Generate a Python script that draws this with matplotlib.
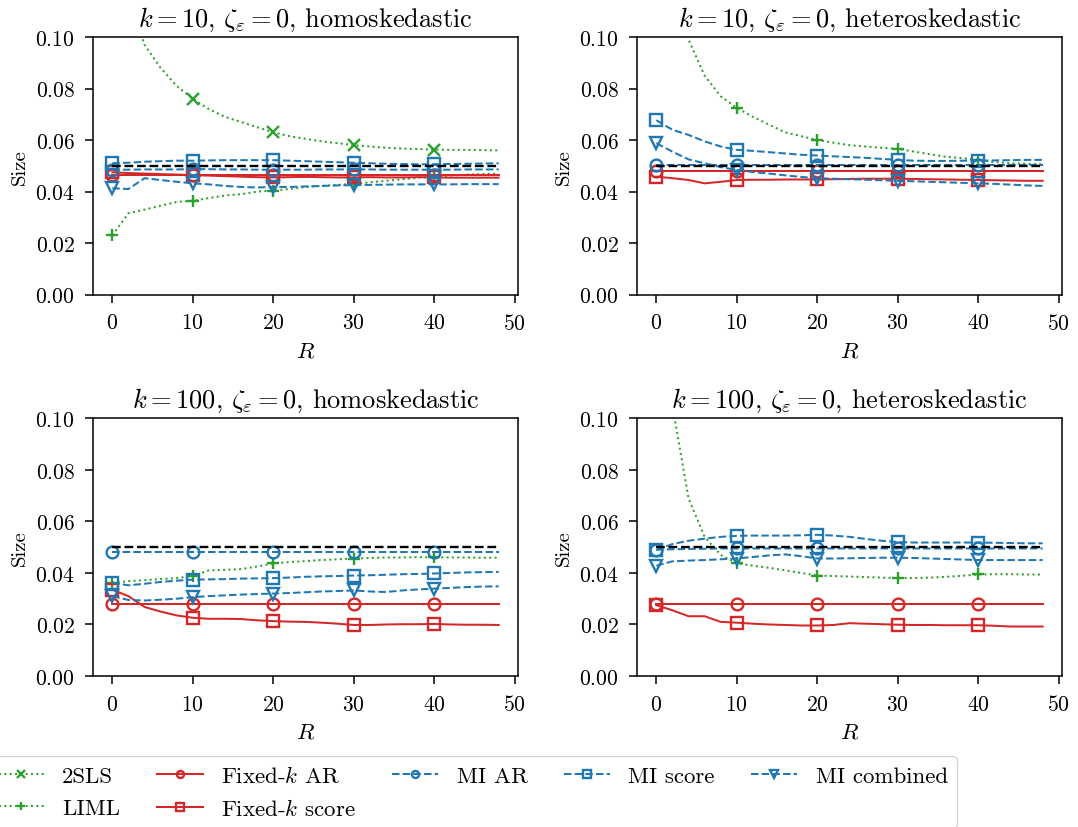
import numpy as np
import matplotlib
matplotlib.use("Agg")
import matplotlib.pyplot as plt

plt.rcParams['font.family'] = 'serif'
plt.rcParams['font.serif'] = ['cmr10']
plt.rcParams['mathtext.fontset'] = 'cm'
plt.rcParams['axes.formatter.use_mathtext'] = True

R = list(range(0, 50, 2))

titles = [r'$k=10$, $\zeta_\varepsilon=0$, homoskedastic',
          r'$k=10$, $\zeta_\varepsilon=0$, heteroskedastic',
          r'$k=100$, $\zeta_\varepsilon=0$, homoskedastic',
          r'$k=100$, $\zeta_\varepsilon=0$, heteroskedastic']

labels = ['2SLS', 'LIML', 'Fixed-$k$ AR', 'Fixed-$k$ score', 'MI AR', 'MI score', 'MI combined']

nominal = [0.05] * 25

# ---- panel 1: k=10 homoskedastic
tsls_1 = [0.140, 0.115, 0.097, 0.088, 0.081, 0.076, 0.072, 0.069, 0.067, 0.065, 0.063, 0.0615, 0.0605,
          0.0595, 0.0588, 0.058, 0.0575, 0.057, 0.0567, 0.0565, 0.0563, 0.0562, 0.0562, 0.0561, 0.056]
liml_1 = [0.023, 0.0316, 0.033, 0.0345, 0.036, 0.0364, 0.0375, 0.0385, 0.039, 0.040, 0.0404, 0.041, 0.0418,
          0.0422, 0.0426, 0.043, 0.0436, 0.0442, 0.0448, 0.0454, 0.0458, 0.0462, 0.0466, 0.0468, 0.047]
fixar_1 = [0.0465, 0.0465, 0.0465, 0.0465, 0.0465, 0.0465, 0.0465, 0.0465, 0.0465, 0.0465, 0.0465, 0.0465, 0.0465,
           0.0465, 0.0465, 0.0465, 0.0465, 0.0465, 0.0465, 0.0465, 0.0465, 0.0465, 0.0465, 0.0465, 0.0465]
fixsc_1 = [0.0475, 0.0472, 0.047, 0.0468, 0.0466, 0.0464, 0.0462, 0.046, 0.0458, 0.0456, 0.0455, 0.0456, 0.0457,
           0.0456, 0.0455, 0.0455, 0.0456, 0.0455, 0.0455, 0.0456, 0.0455, 0.0454, 0.0454, 0.0454, 0.0454]
miar_1 = [0.0485, 0.0485, 0.0486, 0.0486, 0.0486, 0.0487, 0.0487, 0.0486, 0.0486, 0.0485, 0.0485, 0.0485, 0.0485,
          0.0486, 0.0486, 0.0486, 0.0486, 0.0485, 0.0485, 0.0485, 0.0485, 0.0485, 0.0486, 0.0486, 0.0486]
misc_1 = [0.051, 0.0512, 0.0516, 0.0518, 0.052, 0.052, 0.0521, 0.0522, 0.0522, 0.0522, 0.0522, 0.052, 0.0518,
          0.0516, 0.0514, 0.0512, 0.051, 0.0508, 0.0507, 0.0506, 0.0506, 0.0507, 0.0508, 0.0509, 0.051]
mico_1 = [0.0413, 0.041, 0.0452, 0.0445, 0.0438, 0.0432, 0.0428, 0.0422, 0.0418, 0.0416, 0.0418, 0.0418, 0.042,
          0.0422, 0.0424, 0.0425, 0.0426, 0.0427, 0.0428, 0.0428, 0.0428, 0.0428, 0.0429, 0.0429, 0.0429]

# ---- panel 2: k=10 heteroskedastic
tsls_2 = [0.40, 0.33, 0.28, 0.25, 0.22, 0.20, 0.19, 0.18, 0.17, 0.165, 0.16, 0.155, 0.15,
          0.146, 0.142, 0.139, 0.136, 0.133, 0.131, 0.129, 0.127, 0.125, 0.123, 0.122, 0.121]
liml_2 = [0.20, 0.13, 0.099, 0.085, 0.077, 0.0725, 0.069, 0.066, 0.063, 0.0615, 0.060, 0.059, 0.058,
          0.0575, 0.057, 0.0566, 0.0555, 0.0545, 0.0535, 0.053, 0.0523, 0.0515, 0.051, 0.0508, 0.0506]
fixar_2 = [0.0478, 0.0478, 0.0478, 0.0478, 0.0478, 0.0478, 0.0478, 0.0478, 0.0478, 0.0478, 0.0478, 0.0478, 0.0478,
           0.0478, 0.0478, 0.0478, 0.0478, 0.0478, 0.0478, 0.0478, 0.0478, 0.0478, 0.0478, 0.0478, 0.0478]
fixsc_2 = [0.0458, 0.0452, 0.0445, 0.0432, 0.0438, 0.0445, 0.0446, 0.0446, 0.0447, 0.0447, 0.0447, 0.0448, 0.0449,
           0.045, 0.045, 0.045, 0.0449, 0.0448, 0.0447, 0.0446, 0.0445, 0.0444, 0.0443, 0.0442, 0.0442]
miar_2 = [0.0505, 0.0505, 0.0505, 0.0505, 0.0505, 0.0505, 0.0505, 0.0505, 0.0505, 0.0505, 0.0505, 0.0505, 0.0505,
          0.0505, 0.0505, 0.0505, 0.0505, 0.0505, 0.0505, 0.0505, 0.0505, 0.0505, 0.0505, 0.0505, 0.0505]
misc_2 = [0.0677, 0.064, 0.062, 0.0595, 0.0575, 0.0562, 0.0558, 0.0553, 0.0548, 0.0543, 0.054, 0.0537, 0.0534,
          0.0531, 0.0527, 0.0523, 0.052, 0.0519, 0.0519, 0.052, 0.052, 0.0521, 0.0522, 0.0523, 0.0523]
mico_2 = [0.0588, 0.0555, 0.0525, 0.051, 0.0495, 0.0484, 0.0476, 0.047, 0.0463, 0.0457, 0.0452, 0.045, 0.0448,
          0.0446, 0.0444, 0.0442, 0.044, 0.0438, 0.0436, 0.0434, 0.0432, 0.043, 0.0427, 0.0424, 0.0422]

# ---- panel 3: k=100 homoskedastic
tsls_3 = [0.45, 0.43, 0.41, 0.40, 0.39, 0.38, 0.37, 0.36, 0.35, 0.34, 0.33, 0.32, 0.31,
          0.30, 0.295, 0.29, 0.285, 0.28, 0.275, 0.27, 0.265, 0.26, 0.255, 0.25, 0.245]
liml_3 = [0.0362, 0.0368, 0.0372, 0.0376, 0.038, 0.0388, 0.041, 0.0412, 0.0415, 0.0425, 0.0437, 0.0442, 0.0446,
          0.045, 0.0453, 0.0456, 0.0458, 0.046, 0.046, 0.0461, 0.0461, 0.046, 0.046, 0.0459, 0.0459]
fixar_3 = [0.028, 0.028, 0.028, 0.028, 0.028, 0.028, 0.028, 0.028, 0.028, 0.028, 0.028, 0.028, 0.028,
           0.028, 0.028, 0.028, 0.028, 0.028, 0.028, 0.028, 0.028, 0.028, 0.028, 0.028, 0.028]
fixsc_3 = [0.0335, 0.031, 0.0268, 0.025, 0.0235, 0.0226, 0.0222, 0.0222, 0.0221, 0.0216, 0.0213, 0.0211, 0.021,
           0.0207, 0.0203, 0.0198, 0.0198, 0.02, 0.0201, 0.0201, 0.0202, 0.02, 0.0199, 0.0199, 0.0198]
miar_3 = [0.0482, 0.0482, 0.0482, 0.0482, 0.0482, 0.0482, 0.0482, 0.0482, 0.0482, 0.0482, 0.0482, 0.0482, 0.0482,
          0.0482, 0.0482, 0.0482, 0.0482, 0.0482, 0.0482, 0.0482, 0.0482, 0.0482, 0.0482, 0.0482, 0.0482]
misc_3 = [0.0362, 0.0352, 0.0358, 0.0365, 0.037, 0.0374, 0.0375, 0.0376, 0.0378, 0.0379, 0.038, 0.0382, 0.0385,
          0.0387, 0.0388, 0.039, 0.0391, 0.0393, 0.0395, 0.0396, 0.0398, 0.04, 0.0402, 0.0403, 0.0404]
mico_3 = [0.031, 0.0295, 0.0293, 0.0296, 0.03, 0.0306, 0.031, 0.0313, 0.0316, 0.0318, 0.032, 0.0322, 0.0325,
          0.0328, 0.033, 0.0332, 0.0328, 0.0326, 0.0332, 0.0336, 0.0339, 0.0342, 0.0345, 0.0347, 0.0348]

# ---- panel 4: k=100 heteroskedastic
tsls_4 = [0.60, 0.55, 0.50, 0.47, 0.44, 0.42, 0.40, 0.38, 0.36, 0.35, 0.34, 0.33, 0.32,
          0.31, 0.30, 0.29, 0.285, 0.28, 0.275, 0.27, 0.265, 0.26, 0.255, 0.25, 0.245]
liml_4 = [0.20, 0.105, 0.069, 0.054, 0.047, 0.0437, 0.0428, 0.042, 0.041, 0.040, 0.039, 0.0388, 0.0386,
          0.0384, 0.0382, 0.038, 0.038, 0.0382, 0.0385, 0.0389, 0.0394, 0.0395, 0.0395, 0.0394, 0.0394]
fixar_4 = [0.028, 0.028, 0.028, 0.028, 0.028, 0.028, 0.028, 0.028, 0.028, 0.028, 0.028, 0.028, 0.028,
           0.028, 0.028, 0.028, 0.028, 0.028, 0.028, 0.028, 0.028, 0.028, 0.028, 0.028, 0.028]
fixsc_4 = [0.0275, 0.0255, 0.0232, 0.0232, 0.021, 0.0207, 0.0203, 0.02, 0.0198, 0.0196, 0.0196, 0.0198, 0.0205,
           0.0203, 0.0201, 0.0199, 0.0198, 0.0198, 0.0197, 0.0197, 0.0197, 0.0195, 0.0192, 0.0192, 0.0192]
miar_4 = [0.049, 0.0492, 0.0493, 0.0494, 0.0495, 0.0495, 0.0495, 0.0495, 0.0495, 0.0495, 0.0495, 0.0495, 0.0495,
          0.0495, 0.0495, 0.0495, 0.0495, 0.0495, 0.0495, 0.0495, 0.0495, 0.0495, 0.0495, 0.0495, 0.0495]
misc_4 = [0.0489, 0.0512, 0.0525, 0.0533, 0.054, 0.0544, 0.0545, 0.0545, 0.0545, 0.0546, 0.0548, 0.0545, 0.054,
          0.0532, 0.0525, 0.052, 0.0518, 0.0518, 0.0518, 0.0518, 0.0518, 0.0517, 0.0516, 0.0515, 0.0515]
mico_4 = [0.0428, 0.0445, 0.0448, 0.045, 0.0453, 0.0456, 0.0462, 0.0468, 0.0472, 0.0465, 0.0456, 0.0456, 0.0457,
          0.0458, 0.0459, 0.0459, 0.0458, 0.0456, 0.0454, 0.0452, 0.045, 0.045, 0.045, 0.045, 0.045]

panels = [
    [tsls_1, liml_1, fixar_1, fixsc_1, miar_1, misc_1, mico_1],
    [tsls_2, liml_2, fixar_2, fixsc_2, miar_2, misc_2, mico_2],
    [tsls_3, liml_3, fixar_3, fixsc_3, miar_3, misc_3, mico_3],
    [tsls_4, liml_4, fixar_4, fixsc_4, miar_4, misc_4, mico_4],
]

GREEN, RED, BLUE = '#2ca02c', '#d62728', '#1f77b4'
styles = [
    dict(color=GREEN, ls=':', marker='x'),
    dict(color=GREEN, ls=':', marker='+'),
    dict(color=RED, ls='-', marker='o'),
    dict(color=RED, ls='-', marker='s'),
    dict(color=BLUE, ls='--', marker='o'),
    dict(color=BLUE, ls='--', marker='s'),
    dict(color=BLUE, ls='--', marker='v'),
]

fig, axes = plt.subplots(2, 2, figsize=(10.78, 8.28), dpi=100)
fig.subplots_adjust(left=93/1078, right=1062/1078, top=1-38/828, bottom=1-677/828,
                    wspace=0.28, hspace=0.48)

handles = []
for ax, data, title in zip(axes.flat, panels, titles):
    hs = []
    for vals, st, lab in zip(data, styles, labels):
        h, = ax.plot(R, vals, lw=1.45, markevery=5, ms=8.5, mew=1.7, fillstyle='none',
                     label=lab, **st)
        hs.append(h)
    ax.plot(R, nominal, color='black', ls='--', lw=1.7)
    handles = hs
    ax.set_ylim(0, 0.1)
    ax.set_xlim(-2.4, 50.4)
    ax.set_yticks([0.0, 0.02, 0.04, 0.06, 0.08, 0.10])
    ax.set_xticks([0, 10, 20, 30, 40, 50])
    ax.tick_params(labelsize=15.5, length=6, width=1.1, pad=7)
    for s in ax.spines.values():
        s.set_linewidth(1.1)
    ax.set_title(title, fontsize=19, pad=8)
    ax.set_xlabel('$R$', fontsize=16.5, labelpad=6)
    ax.set_ylabel('Size', fontsize=15, labelpad=5)

fig.legend(handles, labels, ncol=5, loc='upper left',
           bbox_to_anchor=(-11/1078, 1-757/828), borderaxespad=0, fontsize=16.5,
           columnspacing=1.6, markerscale=0.6, fancybox=True, framealpha=0.8)

fig.savefig('out.png', dpi=100)
